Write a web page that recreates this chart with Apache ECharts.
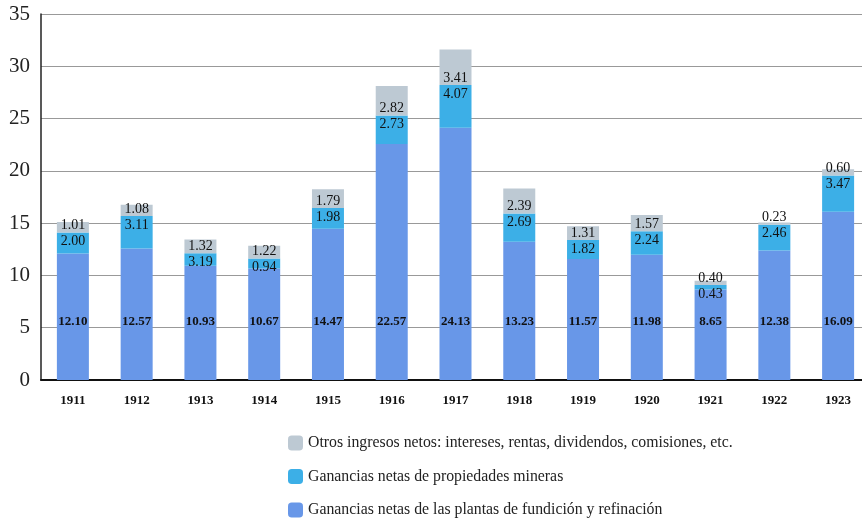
<!DOCTYPE html>
<html>
<head>
<meta charset="utf-8">
<script src="https://cdn.jsdelivr.net/npm/echarts@6/dist/echarts.min.js"></script>
<style>
  html, body { margin: 0; padding: 0; background: #fff; }
  #main { width: 862px; height: 518px; }
</style>
</head>
<body>
<div id="main"></div>
<script>
var years = ['1911', '1912', '1913', '1914', '1915', '1916', '1917', '1918', '1919', '1920', '1921', '1922', '1923'];
// ganancias de plantas de fundición y refinación
var fundicion = [12.10, 12.57, 10.93, 10.67, 14.47, 22.57, 24.13, 13.23, 11.57, 11.98, 8.65, 12.38, 16.09];
// ganancias de propiedades mineras (altura dibujada; 1913 se dibuja más baja que su rótulo)
var mineras = [2.00, 3.11, 1.19, 0.94, 1.98, 2.73, 4.07, 2.69, 1.82, 2.24, 0.43, 2.46, 3.47];
var minerasLabels = ['2.00', '3.11', '3.19', '0.94', '1.98', '2.73', '4.07', '2.69', '1.82', '2.24', '0.43', '2.46', '3.47'];
// otros ingresos
var otros = [1.01, 1.08, 1.32, 1.22, 1.79, 2.82, 3.41, 2.39, 1.31, 1.57, 0.40, 0.23, 0.60];
var yTicks = [0, 5, 10, 15, 20, 25, 30, 35];

var serifFont = '"Liberation Serif", "DejaVu Serif", serif';
var fmt = function (p) { return p.value.toFixed(2); };

var chart = echarts.init(document.getElementById('main'));
var option = {
    animation: false,
    textStyle: { fontFamily: serifFont },
    grid: { left: 41, top: 14, width: 829, bottom: 138, outerBoundsMode: 'none', containLabel: false },
    legend: {
        orient: 'vertical',
        left: 288,
        top: 435,
        height: 110,
        padding: 0,
        itemGap: 17.5,
        itemWidth: 15,
        itemHeight: 15,
        icon: 'roundRect',
        textStyle: { fontSize: 15.8, color: '#222', fontFamily: serifFont },
        data: [
            'Otros ingresos netos: intereses, rentas, dividendos, comisiones, etc.',
            'Ganancias netas de propiedades mineras',
            'Ganancias netas de las plantas de fundición y refinación'
        ]
    },
    xAxis: {
        type: 'category',
        data: years,
        axisLine: { lineStyle: { color: '#111', width: 2 } },
        axisTick: { show: false },
        axisLabel: { fontSize: 13, fontWeight: 'bold', color: '#111', margin: 14, fontFamily: serifFont }
    },
    yAxis: {
        type: 'value',
        min: yTicks[0],
        max: yTicks[yTicks.length - 1],
        interval: 5,
        axisLine: { show: true, lineStyle: { color: '#222', width: 1.5 } },
        axisTick: { show: false },
        splitLine: { lineStyle: { color: '#999', width: 1 } },
        axisLabel: { fontSize: 21, color: '#222', margin: 11, fontFamily: serifFont }
    },
    series: [
        {
            name: 'Ganancias netas de las plantas de fundición y refinación',
            type: 'bar',
            stack: 'total',
            barWidth: 32,
            data: fundicion,
            itemStyle: { color: '#6897E8' },
            label: {
                show: true,
                position: 'insideBottom',
                distance: 52,
                formatter: fmt,
                fontSize: 13,
                fontWeight: 'bold',
                color: '#111',
                fontFamily: serifFont
            }
        },
        {
            name: 'Ganancias netas de propiedades mineras',
            type: 'bar',
            stack: 'total',
            data: mineras,
            itemStyle: { color: '#3CAFE7' },
            label: {
                show: true,
                position: 'insideTop',
                distance: 2,
                formatter: function (p) { return minerasLabels[p.dataIndex]; },
                fontSize: 14,
                color: '#111',
                fontFamily: serifFont
            }
        },
        {
            name: 'Otros ingresos netos: intereses, rentas, dividendos, comisiones, etc.',
            type: 'bar',
            stack: 'total',
            data: otros,
            itemStyle: { color: '#BDC9D3' },
            label: {
                show: true,
                position: 'insideBottom',
                distance: 0,
                formatter: fmt,
                fontSize: 14,
                color: '#111',
                fontFamily: serifFont
            }
        }
    ]
};
chart.setOption(option);
</script>
</body>
</html>
